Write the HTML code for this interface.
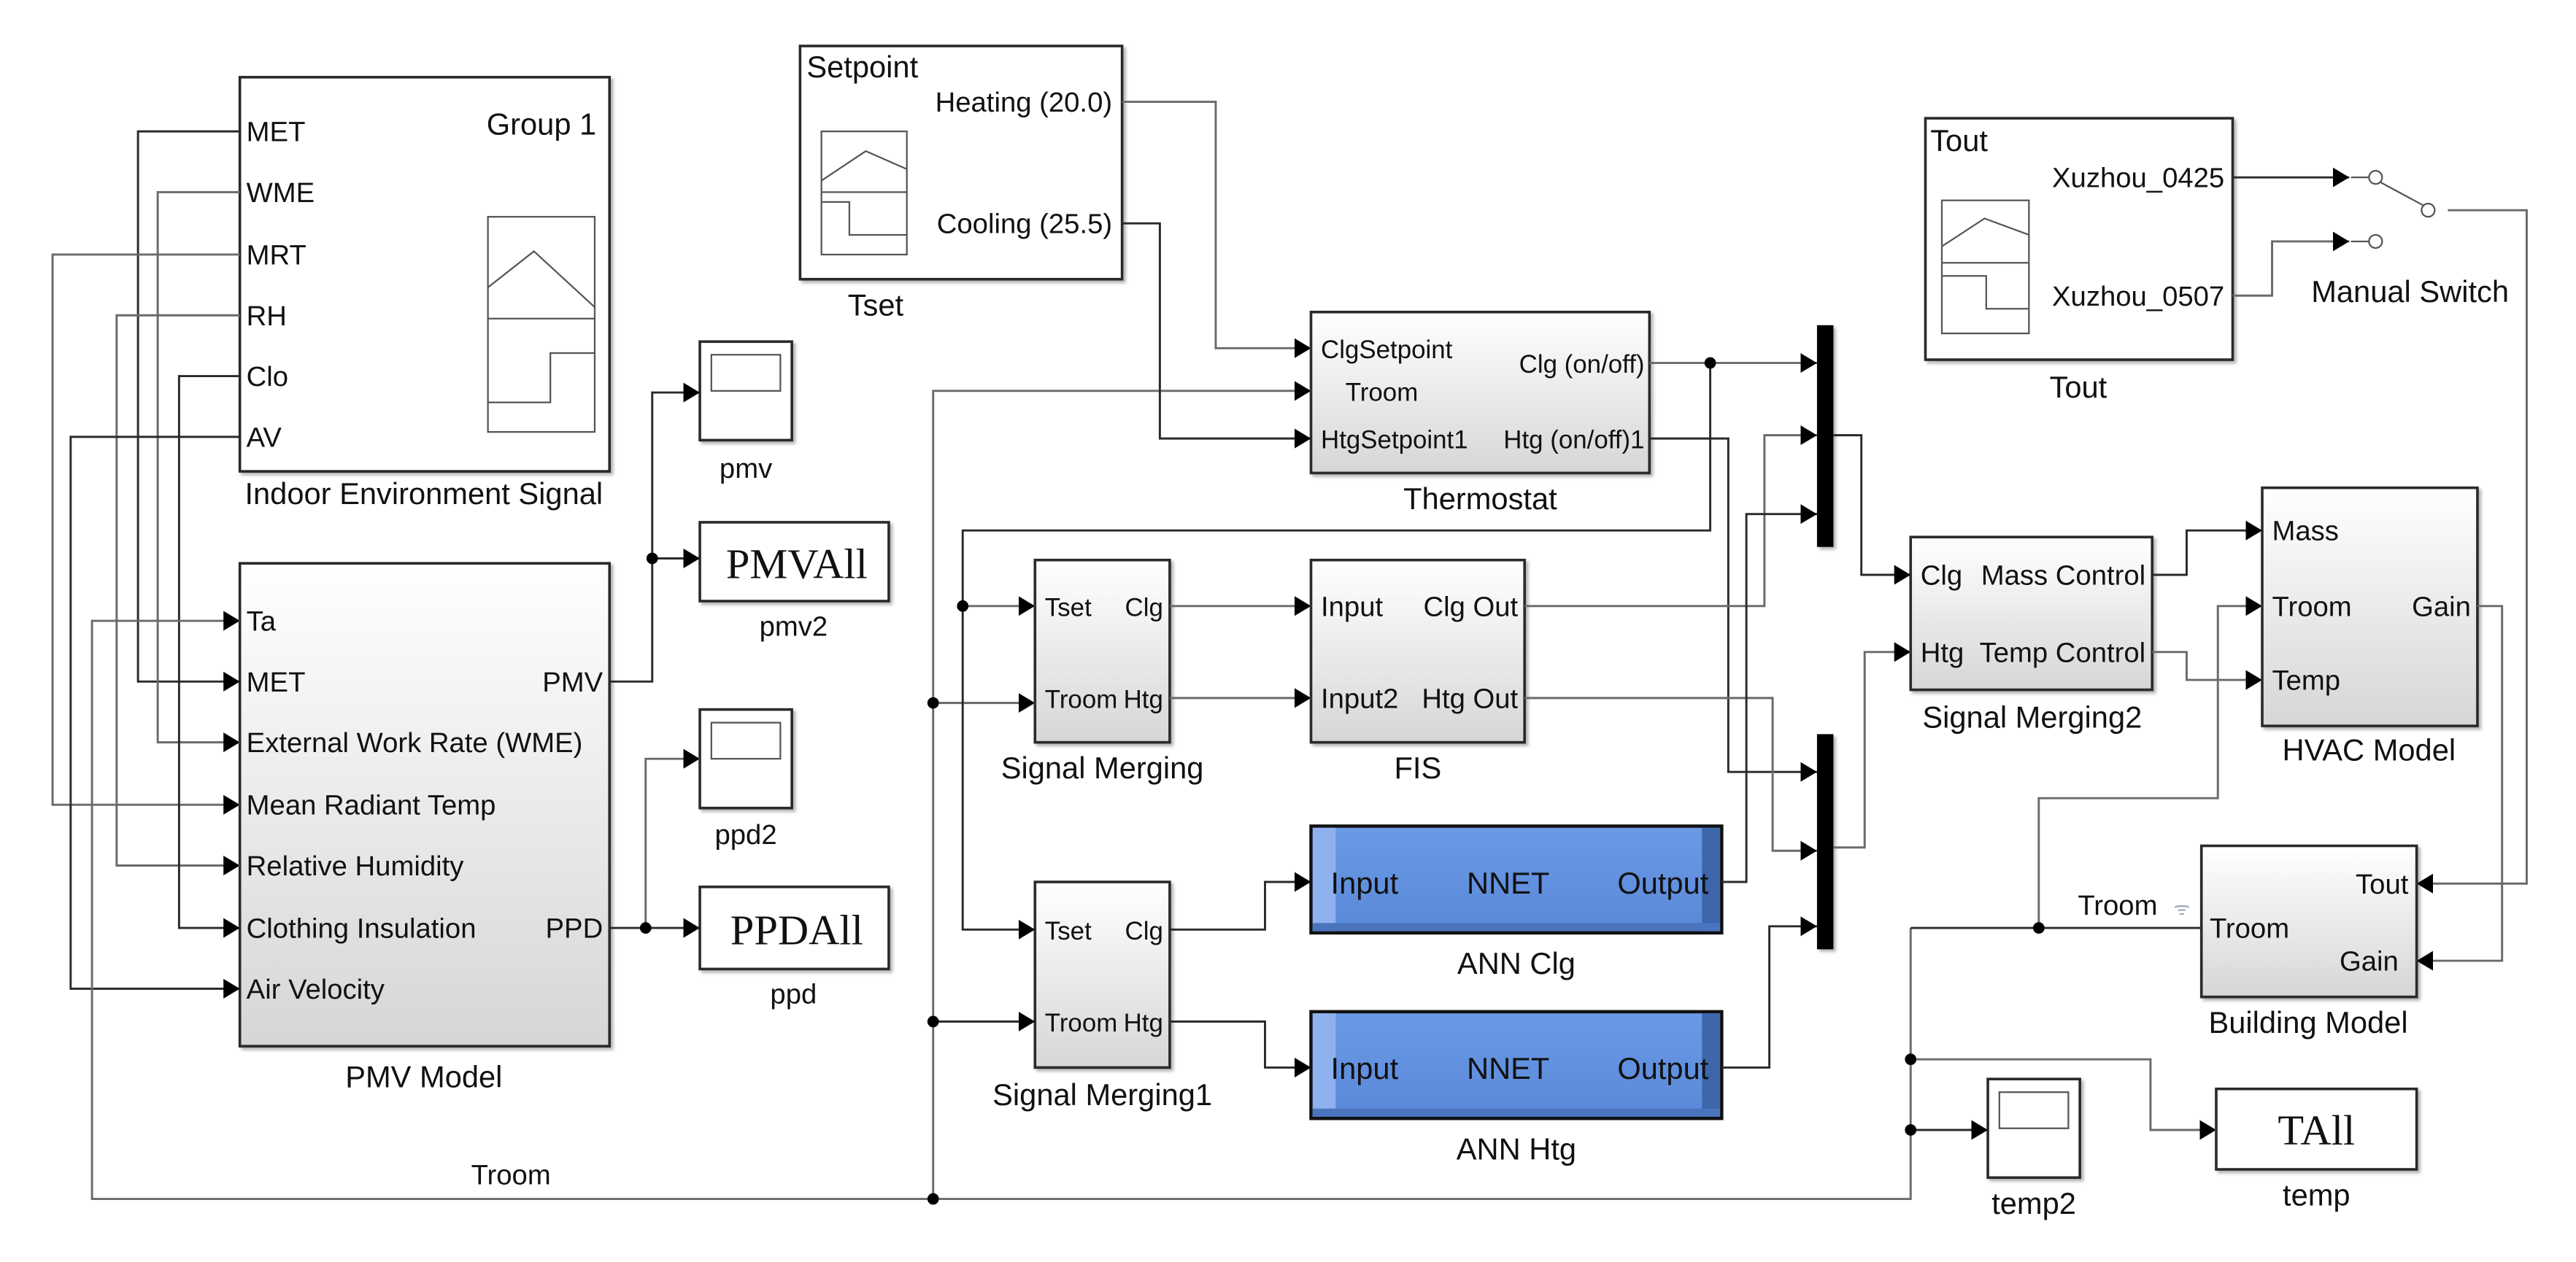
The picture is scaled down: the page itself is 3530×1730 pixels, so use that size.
<!DOCTYPE html>
<html><head><meta charset="utf-8"><style>
html,body{margin:0;padding:0;background:#fff;}
svg{display:block;}
text{font-family:"Liberation Sans",sans-serif;font-size:17px;fill:#111;}
.L{font-size:18.5px;}
.p{font-size:15.5px;}
.s{font-family:"Liberation Serif",serif;font-size:26px;}
.w{fill:none;stroke:#2a2a2a;stroke-width:1.3;}
.g{fill:none;stroke:#6a6a6a;stroke-width:1.3;}
.b{stroke:#2a2a2a;stroke-width:1.6;}
.ic{fill:none;stroke:#555;stroke-width:1;}
</style></head><body>
<svg width="3530" height="1730" viewBox="0 0 1568 768.4" preserveAspectRatio="none" xmlns="http://www.w3.org/2000/svg">
<defs>
<marker id="a" markerWidth="10" markerHeight="12" refX="10" refY="6" orient="auto" markerUnits="userSpaceOnUse"><path d="M0,0L10,6L0,12z" fill="#000"/></marker>
<linearGradient id="gr" x1="0" y1="0" x2="0" y2="1"><stop offset="0" stop-color="#ffffff"/><stop offset="1" stop-color="#d6d6d6"/></linearGradient>
<linearGradient id="bl" x1="0" y1="0" x2="0" y2="1"><stop offset="0" stop-color="#6a9ae6"/><stop offset="1" stop-color="#5a88d8"/></linearGradient>
<filter id="sh"><feDropShadow dx="1.5" dy="1.5" stdDeviation="1" flood-color="#000" flood-opacity="0.3"/></filter>
</defs>

<g filter="url(#sh)">
<rect x="146" y="47" width="225" height="240" fill="#fff" class="b"/>
<rect x="146" y="343" width="225" height="294" fill="url(#gr)" class="b"/>
<rect x="487" y="28" width="196" height="142" fill="#fff" class="b"/>
<rect x="798" y="190" width="206" height="98" fill="url(#gr)" class="b"/>
<rect x="630" y="341" width="82" height="111" fill="url(#gr)" class="b"/>
<rect x="798" y="341" width="130" height="111" fill="url(#gr)" class="b"/>
<rect x="630" y="537" width="82" height="113" fill="url(#gr)" class="b"/>
<rect x="1163" y="327" width="147" height="93" fill="url(#gr)" class="b"/>
<rect x="1377" y="297" width="131" height="145" fill="url(#gr)" class="b"/>
<rect x="1172" y="72" width="187" height="147" fill="#fff" class="b"/>
<rect x="1340" y="515" width="131" height="92" fill="url(#gr)" class="b"/>
<rect x="426" y="208" width="56" height="60" fill="#fff" class="b"/>
<rect x="426" y="318" width="115" height="48" fill="#fff" class="b"/>
<rect x="426" y="432" width="56" height="60" fill="#fff" class="b"/>
<rect x="426" y="540" width="115" height="50" fill="#fff" class="b"/>
<rect x="1210" y="657" width="56" height="60" fill="#fff" class="b"/>
<rect x="1349" y="663" width="122" height="49" fill="#fff" class="b"/>
<rect x="1106" y="198" width="10" height="135" fill="#000"/>
<rect x="1106" y="447" width="10" height="131" fill="#000"/>
</g>
<g>
<rect x="798" y="503" width="250" height="65" fill="url(#bl)" stroke="#111" stroke-width="2"/>
<rect x="799" y="504" width="14" height="63" fill="#8fb2ee"/>
<rect x="1036" y="504" width="11" height="63" fill="#3e66aa"/>
<rect x="799" y="562" width="248" height="5" fill="#4a74bd"/>
<rect x="798" y="616" width="250" height="65" fill="url(#bl)" stroke="#111" stroke-width="2"/>
<rect x="799" y="617" width="14" height="63" fill="#8fb2ee"/>
<rect x="1036" y="617" width="11" height="63" fill="#3e66aa"/>
<rect x="799" y="675" width="248" height="5" fill="#4a74bd"/>
</g>

<rect x="433" y="216" width="42" height="22" class="ic"/>
<rect x="433" y="440" width="42" height="22" class="ic"/>
<rect x="1217" y="665" width="42" height="22" class="ic"/>

<rect x="297" y="132" width="65" height="131" class="ic"/><line x1="297" y1="194" x2="362" y2="194" class="ic"/>
<polyline points="297,175 325,153 362,187" class="ic"/><polyline points="297,245 335,245 335,215 362,215" class="ic"/>
<rect x="500" y="80" width="52" height="75" class="ic"/><line x1="500" y1="117" x2="552" y2="117" class="ic"/>
<polyline points="500,110 527,92 552,103" class="ic"/><polyline points="500,123 517,123 517,143 552,143" class="ic"/>
<rect x="1182" y="122" width="53" height="81" class="ic"/><line x1="1182" y1="160" x2="1235" y2="160" class="ic"/>
<polyline points="1182,150 1208,133 1235,143" class="ic"/><polyline points="1182,168 1209,168 1209,188 1235,188" class="ic"/>

<path class="w" d="M146,80H84V415H146" marker-end="url(#a)"/>
<path class="g" d="M146,117H96V452H146" marker-end="url(#a)"/>
<path class="g" d="M146,155H32V490H146" marker-end="url(#a)"/>
<path class="g" d="M146,192H71V527H146" marker-end="url(#a)"/>
<path class="w" d="M146,229H109V565H146" marker-end="url(#a)"/>
<path class="w" d="M146,266H43V602H146" marker-end="url(#a)"/>
<path class="g" d="M1163,565V730H56V378H146" marker-end="url(#a)"/>
<path class="w" d="M1340,565H1163"/>
<path class="g" d="M568,730V238H798" marker-end="url(#a)"/>
<path class="g" d="M568,428H630" marker-end="url(#a)"/>
<path class="w" d="M568,622H630" marker-end="url(#a)"/>
<path class="g" d="M1004,221H1106" marker-end="url(#a)"/>
<path class="w" d="M1041,221V323H586V566H630" marker-end="url(#a)"/>
<path class="g" d="M586,369H630" marker-end="url(#a)"/>
<path class="w" d="M1004,267H1052V470H1106" marker-end="url(#a)"/>
<path class="g" d="M683,62H740V212H798" marker-end="url(#a)"/>
<path class="w" d="M683,136H706V267H798" marker-end="url(#a)"/>
<path class="g" d="M712,369H798" marker-end="url(#a)"/>
<path class="g" d="M712,425H798" marker-end="url(#a)"/>
<path class="g" d="M928,369H1074V265H1106" marker-end="url(#a)"/>
<path class="g" d="M928,425H1079V518H1106" marker-end="url(#a)"/>
<path class="w" d="M712,566H770V537H798" marker-end="url(#a)"/>
<path class="w" d="M712,622H770V650H798" marker-end="url(#a)"/>
<path class="w" d="M1048,537H1063V313H1106" marker-end="url(#a)"/>
<path class="w" d="M1048,650H1077V564H1106" marker-end="url(#a)"/>
<path class="w" d="M1116,265H1133V350H1163" marker-end="url(#a)"/>
<path class="g" d="M1116,516H1135V397H1163" marker-end="url(#a)"/>
<path class="w" d="M1310,350H1331V323H1377" marker-end="url(#a)"/>
<path class="g" d="M1310,397H1331V414H1377" marker-end="url(#a)"/>
<path class="g" d="M1241,565V486H1350V369H1377" marker-end="url(#a)"/>
<path class="g" d="M1508,369H1523V585H1471" marker-end="url(#a)"/>
<path class="g" d="M1490,128H1538V538H1471" marker-end="url(#a)"/>
<path class="w" d="M1359,108H1430" marker-end="url(#a)"/>
<path class="g" d="M1359,180H1383V147H1430" marker-end="url(#a)"/>
<path class="w" d="M1163,688H1210" marker-end="url(#a)"/>
<path class="g" d="M1163,645H1309V688H1349" marker-end="url(#a)"/>
<path class="w" d="M371,415H397V239H426" marker-end="url(#a)"/>
<path class="w" d="M397,340H426" marker-end="url(#a)"/>
<path class="w" d="M371,565H426" marker-end="url(#a)"/>
<path class="g" d="M393,565V462H426" marker-end="url(#a)"/>

<g fill="#fff" stroke="#555" stroke-width="1">
<line x1="1431" y1="108" x2="1442" y2="108"/><line x1="1431" y1="147" x2="1442" y2="147"/>
<circle cx="1446" cy="108" r="4"/><circle cx="1446" cy="147" r="4"/>
<line x1="1449" y1="111" x2="1475" y2="125"/>
<circle cx="1478" cy="128" r="4"/>
</g>

<g fill="#000">
<circle cx="568" cy="730" r="3.5"/><circle cx="568" cy="428" r="3.5"/><circle cx="568" cy="622" r="3.5"/>
<circle cx="586" cy="369" r="3.5"/><circle cx="1041" cy="221" r="3.5"/>
<circle cx="1241" cy="565" r="3.5"/><circle cx="1163" cy="645" r="3.5"/><circle cx="1163" cy="688" r="3.5"/>
<circle cx="397" cy="340" r="3.5"/><circle cx="393" cy="565" r="3.5"/>
</g>

<text x="150" y="86">MET</text><text x="150" y="123">WME</text><text x="150" y="161">MRT</text>
<text x="150" y="198">RH</text><text x="150" y="235">Clo</text><text x="150" y="272">AV</text>
<text x="363" y="82" text-anchor="end" class="L">Group 1</text>
<text x="258" y="307" text-anchor="middle" class="L">Indoor Environment Signal</text>
<text x="150" y="384">Ta</text><text x="150" y="421">MET</text><text x="150" y="458">External Work Rate (WME)</text>
<text x="150" y="496">Mean Radiant Temp</text><text x="150" y="533">Relative Humidity</text>
<text x="150" y="571">Clothing Insulation</text><text x="150" y="608">Air Velocity</text>
<text x="367" y="421" text-anchor="end">PMV</text><text x="367" y="571" text-anchor="end">PPD</text>
<text x="258" y="662" text-anchor="middle" class="L">PMV Model</text>
<text x="454" y="291" text-anchor="middle">pmv</text>
<text x="485" y="352" text-anchor="middle" class="s">PMVAll</text>
<text x="483" y="387" text-anchor="middle">pmv2</text>
<text x="454" y="514" text-anchor="middle">ppd2</text>
<text x="485" y="575" text-anchor="middle" class="s">PPDAll</text>
<text x="483" y="611" text-anchor="middle">ppd</text>
<text x="491" y="47" class="L">Setpoint</text>
<text x="677" y="68" text-anchor="end">Heating (20.0)</text>
<text x="677" y="142" text-anchor="end">Cooling (25.5)</text>
<text x="533" y="192" text-anchor="middle" class="L">Tset</text>
<text x="804" y="218" class="p">ClgSetpoint</text><text x="819" y="244" class="p">Troom</text><text x="804" y="273" class="p">HtgSetpoint1</text>
<text x="1001" y="227" text-anchor="end" class="p">Clg (on/off)</text>
<text x="1001" y="273" text-anchor="end" class="p">Htg (on/off)1</text>
<text x="901" y="310" text-anchor="middle" class="L">Thermostat</text>
<text x="636" y="375" class="p">Tset</text><text x="708" y="375" text-anchor="end" class="p">Clg</text>
<text x="636" y="431" class="p">Troom</text><text x="708" y="431" text-anchor="end" class="p">Htg</text>
<text x="671" y="474" text-anchor="middle" class="L">Signal Merging</text>
<text x="804" y="375">Input</text><text x="924" y="375" text-anchor="end">Clg Out</text>
<text x="804" y="431">Input2</text><text x="924" y="431" text-anchor="end">Htg Out</text>
<text x="863" y="474" text-anchor="middle" class="L">FIS</text>
<text x="636" y="572" class="p">Tset</text><text x="708" y="572" text-anchor="end" class="p">Clg</text>
<text x="636" y="628" class="p">Troom</text><text x="708" y="628" text-anchor="end" class="p">Htg</text>
<text x="671" y="673" text-anchor="middle" class="L">Signal Merging1</text>
<text x="810" y="544" class="L">Input</text><text x="918" y="544" text-anchor="middle" class="L">NNET</text><text x="1040" y="544" text-anchor="end" class="L">Output</text>
<text x="810" y="657" class="L">Input</text><text x="918" y="657" text-anchor="middle" class="L">NNET</text><text x="1040" y="657" text-anchor="end" class="L">Output</text>
<text x="923" y="593" text-anchor="middle" class="L">ANN Clg</text>
<text x="923" y="706" text-anchor="middle" class="L">ANN Htg</text>
<text x="1169" y="356">Clg</text><text x="1306" y="356" text-anchor="end">Mass Control</text>
<text x="1169" y="403">Htg</text><text x="1306" y="403" text-anchor="end">Temp Control</text>
<text x="1237" y="443" text-anchor="middle" class="L">Signal Merging2</text>
<text x="1383" y="329">Mass</text><text x="1383" y="375">Troom</text><text x="1504" y="375" text-anchor="end">Gain</text>
<text x="1383" y="420">Temp</text>
<text x="1442" y="463" text-anchor="middle" class="L">HVAC Model</text>
<text x="1175" y="92" class="L">Tout</text>
<text x="1354" y="114" text-anchor="end">Xuzhou_0425</text>
<text x="1354" y="186" text-anchor="end">Xuzhou_0507</text>
<text x="1265" y="242" text-anchor="middle" class="L">Tout</text>
<text x="1467" y="184" text-anchor="middle" class="L">Manual Switch</text>
<text x="1466" y="544" text-anchor="end">Tout</text><text x="1345" y="571">Troom</text><text x="1460" y="591" text-anchor="end">Gain</text>
<text x="1405" y="629" text-anchor="middle" class="L">Building Model</text>
<text x="1289" y="557" text-anchor="middle">Troom</text>
<text x="1328" y="557" text-anchor="middle" style="font-size:11px;fill:#9ab">ᯤ</text>
<text x="1238" y="739" text-anchor="middle" class="L">temp2</text>
<text x="1410" y="697" text-anchor="middle" class="s">TAll</text>
<text x="1410" y="734" text-anchor="middle" class="L">temp</text>
<text x="311" y="721" text-anchor="middle">Troom</text>
</svg>
</body></html>
